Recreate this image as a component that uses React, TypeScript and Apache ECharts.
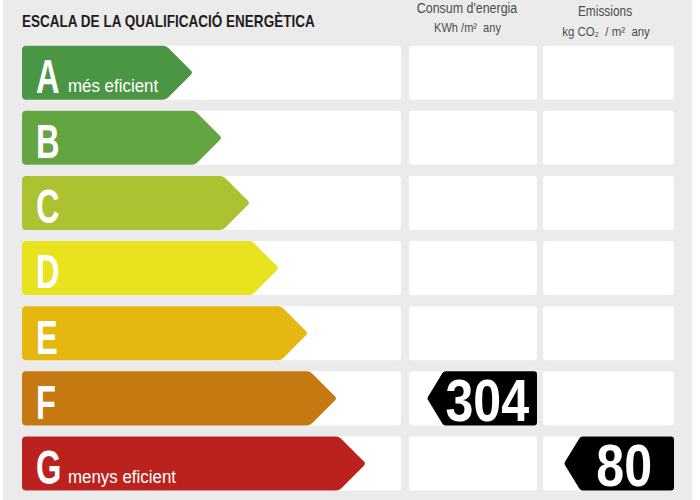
import React, { useEffect, useRef } from "react";
import * as echarts from "echarts";

// ---- data ----
const ratings = ["A", "B", "C", "D", "E", "F", "G"];
const ratingColors = ["#4b9644", "#63a641", "#adc230", "#e8e31e", "#e5b710", "#c67911", "#bb221e"];
const arrowLengths = [171, 200, 228, 257, 286, 315, 344];
const ratingNotes = ["més eficient", "", "", "", "", "", "menys eficient"];
const titleText = "ESCALA DE LA QUALIFICACIÓ ENERGÈTICA";
const energyHeader = ["Consum d'energia", "KWh /m²  any"];
const emissionHeader = ["Emissions", "kg CO₂  / m²  any"];
const energyRating = "F";
const energyValue = 304;
const emissionRating = "G";
const emissionValue = 80;

// ---- layout (axis units = px along the grid) ----
const AXIS_MAX = 652;
const COLS: [number, number][] = [
  [0, 379],
  [387, 515],
  [521, 652],
];
const ROW_GAP = 11.1;
const TAG_WIDTH = 110;
const TAG_NOTCH = 16.5;
const FONT = "'Liberation Sans', Arial, sans-serif";

function roundedPath(pts: number[][], radii: number[]): string {
  const n = pts.length;
  let d = "";
  for (let i = 0; i < n; i++) {
    const p0 = pts[(i - 1 + n) % n];
    const p1 = pts[i];
    const p2 = pts[(i + 1) % n];
    const r = radii[i];
    const l1 = Math.hypot(p0[0] - p1[0], p0[1] - p1[1]);
    const l2 = Math.hypot(p2[0] - p1[0], p2[1] - p1[1]);
    const r1 = Math.min(r, l1 / 2);
    const r2 = Math.min(r, l2 / 2);
    const a = [p1[0] + ((p0[0] - p1[0]) * r1) / l1, p1[1] + ((p0[1] - p1[1]) * r1) / l1];
    const b = [p1[0] + ((p2[0] - p1[0]) * r2) / l2, p1[1] + ((p2[1] - p1[1]) * r2) / l2];
    d += (i === 0 ? "M" : "L") + a[0].toFixed(2) + " " + a[1].toFixed(2);
    d += "Q" + p1[0].toFixed(2) + " " + p1[1].toFixed(2) + " " + b[0].toFixed(2) + " " + b[1].toFixed(2);
  }
  return d + "Z";
}

function headerText(text: string, x: number, y: number, size: number, scaleX: number) {
  return {
    type: "text",
    x,
    y,
    scaleX,
    style: { text, fill: "#4d4d4d", fontFamily: FONT, fontSize: size, align: "center", verticalAlign: "middle" },
  };
}

export default function App() {
  const ref = useRef<HTMLDivElement>(null);

  useEffect(() => {
    if (!ref.current) return;
    const chart = echarts.init(ref.current, undefined, { renderer: "svg" });

    const tagItem = (colIdx: number) => (params: any, api: any) => {
      const idx = api.value(1);
      const val = api.value(0);
      const band = api.size([0, 1])[1];
      const h = band - ROW_GAP;
      const cy = api.coord([0, idx])[1];
      const xr = api.coord([COLS[colIdx][1], idx])[0];
      const xl = xr - TAG_WIDTH;
      const xb = xl + TAG_NOTCH;
      const top = cy - h / 2;
      const bot = cy + h / 2;
      const d = roundedPath(
        [
          [xb, top],
          [xr, top],
          [xr, bot],
          [xb, bot],
          [xl, cy],
        ],
        [2, 3, 3, 2, 2]
      );
      return {
        type: "group",
        children: [
          { type: "path", shape: { pathData: d }, style: { fill: "#000" } },
          {
            type: "text",
            x: (xb + xr) / 2 - 3,
            y: cy + 2,
            scaleX: 0.85,
            style: {
              text: String(val),
              fill: "#fff",
              fontFamily: FONT,
              fontWeight: "bold",
              fontSize: 59,
              align: "center",
              verticalAlign: "middle",
            },
          },
        ],
      };
    };

    const option: any = {
      animation: false,
      backgroundColor: "#ffffff",
      grid: { left: 22, right: 26, top: 40.1, bottom: 3.9 },
      xAxis: { type: "value", min: 0, max: AXIS_MAX, show: false },
      yAxis: { type: "category", data: ratings, inverse: true, show: false },
      graphic: [
        { type: "rect", z: -10, shape: { x: 3, y: 0, width: 689, height: 500 }, style: { fill: "#ebebeb" } },
        {
          type: "text",
          x: 22,
          y: 20.5,
          scaleX: 0.82,
          style: {
            text: titleText,
            fill: "#1e1e1e",
            fontFamily: FONT,
            fontWeight: "bold",
            fontSize: 16.5,
            align: "left",
            verticalAlign: "middle",
          },
        },
        headerText(energyHeader[0], 467, 8.6, 15, 0.83),
        headerText(energyHeader[1], 467.5, 28, 13, 0.85),
        headerText(emissionHeader[0], 605, 11.5, 14.5, 0.82),
        headerText(emissionHeader[1], 606, 31.5, 13, 0.88),
      ],
      series: [
        {
          name: "boxes",
          type: "custom",
          silent: true,
          z: 1,
          data: ratings.map((_, i) => [AXIS_MAX, i]),
          renderItem: (params: any, api: any) => {
            const idx = api.value(1);
            const band = api.size([0, 1])[1];
            const h = band - ROW_GAP;
            const cy = api.coord([0, idx])[1];
            return {
              type: "group",
              children: COLS.map(([a, b]) => {
                const x0 = api.coord([a, idx])[0];
                const x1 = api.coord([b, idx])[0];
                return {
                  type: "rect",
                  shape: { x: x0, y: cy - h / 2, width: x1 - x0, height: h, r: 3 },
                  style: { fill: "#ffffff" },
                };
              }),
            };
          },
        },
        {
          name: "arrows",
          type: "custom",
          silent: true,
          z: 2,
          data: ratings.map((_, i) => [arrowLengths[i], i]),
          renderItem: (params: any, api: any) => {
            const idx = api.value(1);
            const len = api.value(0);
            const band = api.size([0, 1])[1];
            const h = band - ROW_GAP;
            const [x0, cy] = api.coord([0, idx]);
            const xt = api.coord([len, idx])[0];
            const xb = xt - h / 2;
            const top = cy - h / 2;
            const bot = cy + h / 2;
            const d = roundedPath(
              [
                [x0, top],
                [xb, top],
                [xt, cy],
                [xb, bot],
                [x0, bot],
              ],
              [4, 3, 3, 3, 4]
            );
            const children: any[] = [
              { type: "path", shape: { pathData: d }, style: { fill: ratingColors[idx] } },
              {
                type: "text",
                x: x0 + 14,
                y: cy + 4,
                scaleX: 0.68,
                style: {
                  text: ratings[idx],
                  fill: "#fff",
                  fontFamily: FONT,
                  fontWeight: "bold",
                  fontSize: 48,
                  align: "left",
                  verticalAlign: "middle",
                },
              },
            ];
            if (ratingNotes[idx]) {
              children.push({
                type: "text",
                x: x0 + 46,
                y: cy + 13,
                scaleX: 0.89,
                style: {
                  text: ratingNotes[idx],
                  fill: "#fff",
                  fontFamily: FONT,
                  fontSize: 19,
                  align: "left",
                  verticalAlign: "middle",
                },
              });
            }
            return { type: "group", children };
          },
        },
        {
          name: "energy",
          type: "custom",
          silent: true,
          z: 3,
          data: [[energyValue, ratings.indexOf(energyRating)]],
          renderItem: tagItem(1),
        },
        {
          name: "emissions",
          type: "custom",
          silent: true,
          z: 3,
          data: [[emissionValue, ratings.indexOf(emissionRating)]],
          renderItem: tagItem(2),
        },
      ],
    };

    chart.setOption(option);
    return () => chart.dispose();
  }, []);

  return <div ref={ref} style={{ position: "fixed", left: 0, top: 0, width: 700, height: 500 }} />;
}
